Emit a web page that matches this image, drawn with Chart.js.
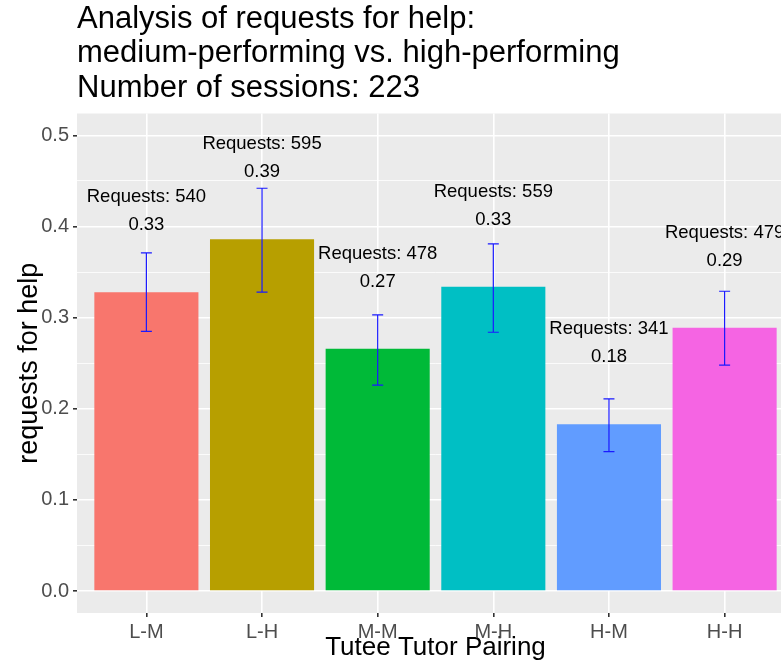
<!DOCTYPE html>
<html>
<head>
<meta charset="utf-8">
<title>Analysis of requests for help</title>
<script src="https://cdn.jsdelivr.net/npm/chart.js@4.4.1/dist/chart.umd.min.js"></script>
<style>
	html, body { margin: 0; padding: 0; background: #fff; overflow: hidden; }
	#wrap { width: 781px; height: 667px; overflow: hidden; }
</style>
</head>
<body>
<div id="wrap"><canvas id="helpChart" width="800" height="667"></canvas></div>
<script>
// data
var pairing = ['L-M', 'L-H', 'M-M', 'M-H', 'H-M', 'H-H'];
var meanHelp = [0.328, 0.386, 0.266, 0.334, 0.183, 0.289];
var errLow = [0.285, 0.328, 0.226, 0.284, 0.153, 0.248];
var errHigh = [0.371, 0.442, 0.303, 0.381, 0.211, 0.329];
var requests = [540, 595, 478, 559, 341, 479];
var barColors = ['#F8766D', '#B79F00', '#00BA38', '#00BFC4', '#619CFF', '#F564E3'];
var yTicks = [0, 0.05, 0.1, 0.15, 0.2, 0.25, 0.3, 0.35, 0.4, 0.45, 0.5];

var FONT = '"Liberation Sans", Arial, sans-serif';

// grey panel behind the grid
var panelBg = {
	id: 'panelBg',
	beforeDraw: function(chart) {
		var ctx = chart.ctx, a = chart.chartArea;
		ctx.save();
		ctx.fillStyle = '#fff';
		ctx.fillRect(0, 0, chart.width, chart.height);
		ctx.fillStyle = '#EBEBEB';
		ctx.fillRect(a.left, a.top, a.right - a.left, a.bottom - a.top);
		ctx.restore();
	}
};

// error bars and the text above each bar
var errorBars = {
	id: 'errorBars',
	afterDatasetsDraw: function(chart) {
		var ctx = chart.ctx, x = chart.scales.x, y = chart.scales.y;
		ctx.save();
		ctx.strokeStyle = '#1a1aff';
		ctx.lineWidth = 1.2;
		for (var i = 0; i < pairing.length; i++) {
			var px = x.getPixelForValue(i);
			var top = y.getPixelForValue(errHigh[i]);
			var bot = y.getPixelForValue(errLow[i]);
			ctx.beginPath();
			ctx.moveTo(px, top); ctx.lineTo(px, bot);
			ctx.moveTo(px - 5.5, top); ctx.lineTo(px + 5.5, top);
			ctx.moveTo(px - 5.5, bot); ctx.lineTo(px + 5.5, bot);
			ctx.stroke();
		}
		ctx.fillStyle = '#000';
		ctx.font = '18.5px ' + FONT;
		ctx.textAlign = 'center';
		ctx.textBaseline = 'middle';
		for (var j = 0; j < pairing.length; j++) {
			var cx = x.getPixelForValue(j);
			var my = y.getPixelForValue(meanHelp[j]);
			ctx.fillText('Requests: ' + requests[j], cx, my - 95);
			ctx.fillText(meanHelp[j].toFixed(2), cx, my - 67);
		}
		ctx.restore();
	}
};

var helpChart = document.getElementById('helpChart').getContext('2d');
var helpChart = new Chart(helpChart, {
	type: 'bar',
	data: {
		datasets: [{
			data: meanHelp.map(function(v, i) { return { x: i, y: v }; }),
			backgroundColor: barColors,
			borderWidth: 0,
			barPercentage: 0.9,
			categoryPercentage: 1.0
		}]
	},
	options: {
		responsive: false,
		animation: false,
		layout: { padding: { left: 0, right: 6, top: 0, bottom: 0 } },
		plugins: {
			legend: { display: false },
			tooltip: { enabled: false },
			title: {
				display: true,
				fullSize: false,
				align: 'start',
				color: '#000',
				text: ['Analysis of requests for help:', 'medium-performing vs. high-performing', 'Number of sessions: 223'],
				font: { family: FONT, size: 31, weight: 'normal', lineHeight: 1.113 },
				padding: { top: 2, bottom: 8 }
			}
		},
		scales: {
			x: {
				type: 'linear',
				offset: false,
				min: -0.6,
				max: 5.6,
				afterBuildTicks: function(scale) {
					scale.ticks = pairing.map(function(p, i) { return { value: i }; });
				},
				afterFit: function(scale) { scale.height = 54; },
				ticks: {
					autoSkip: false,
					maxRotation: 0,
					color: '#4D4D4D',
					font: { family: FONT, size: 20 },
					padding: 3,
					callback: function(value) { return pairing[value]; }
				},
				grid: { offset: false, color: '#fff', lineWidth: 1.6, tickColor: '#333', tickLength: 4 },
				border: { display: false },
				title: {
					display: true,
					text: 'Tutee Tutor Pairing',
					color: '#000',
					font: { family: FONT, size: 26 },
					padding: { top: 0, bottom: 4 }
				}
			},
			y: {
				min: -0.024,
				max: 0.524,
				afterBuildTicks: function(scale) {
					scale.ticks = yTicks.map(function(v) { return { value: v }; });
				},
				afterFit: function(scale) { scale.width = 77; },
				ticks: {
					autoSkip: false,
					color: '#4D4D4D',
					font: { family: FONT, size: 20 },
					padding: 4,
					callback: function(value, index) { return index % 2 === 0 ? value.toFixed(1) : ''; }
				},
				grid: {
					color: '#fff',
					lineWidth: function(c) { return c.index % 2 === 0 ? 1.6 : 0.8; },
					tickColor: function(c) { return c.index % 2 === 0 ? '#333' : 'rgba(0,0,0,0)'; },
					tickLength: 4
				},
				border: { display: false },
				title: {
					display: true,
					text: 'requests for help',
					color: '#000',
					font: { family: FONT, size: 27 },
					padding: { top: 13, bottom: 0 }
				}
			}
		}
	},
	plugins: [panelBg, errorBars]
});
</script>
</body>
</html>
